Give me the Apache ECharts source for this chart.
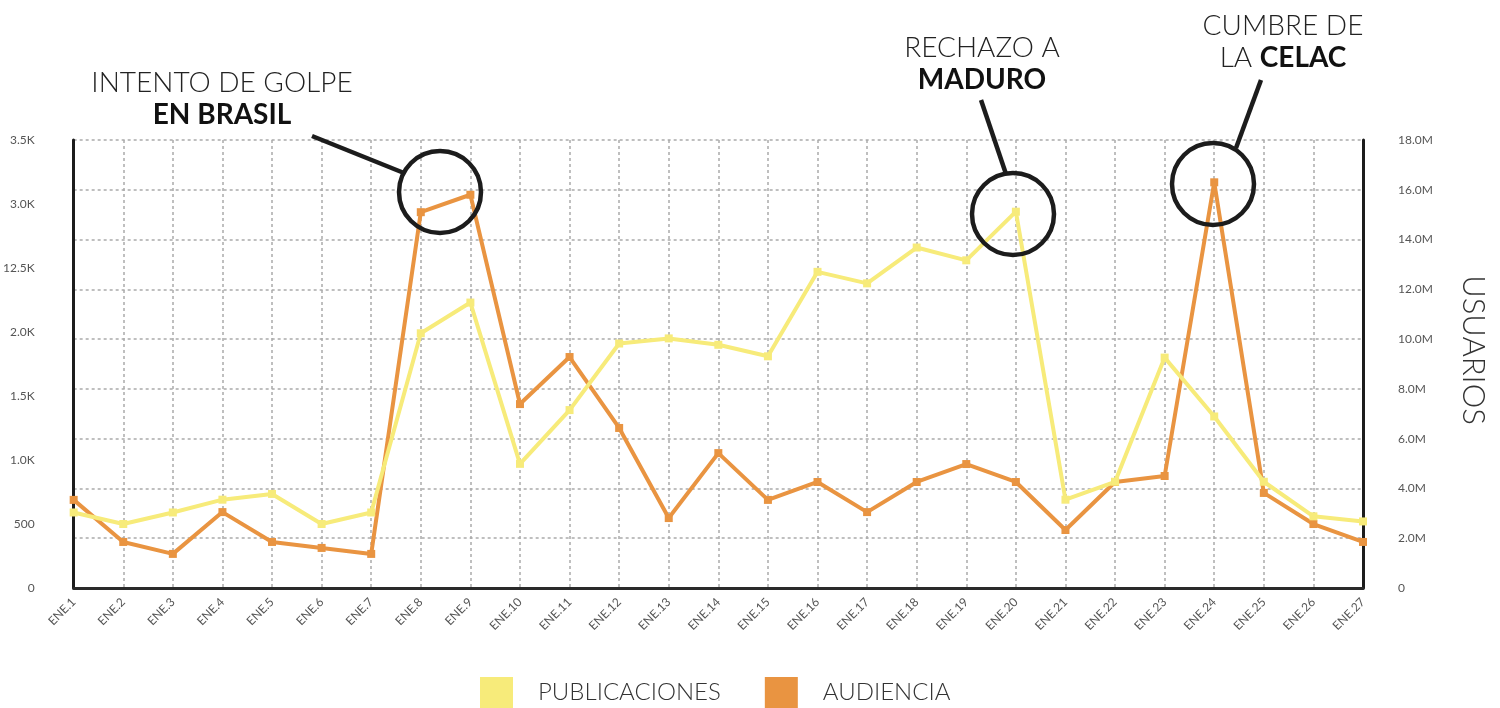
<!DOCTYPE html>
<html>
<head>
<meta charset="utf-8">
<script src="https://cdn.jsdelivr.net/npm/echarts@6/dist/echarts.min.js"></script>
<style>
  html, body { margin: 0; padding: 0; background: #fff; }
  #chart { width: 1500px; height: 708px; }
</style>
</head>
<body>
<div id="chart"></div>
<script>
var dias = [];
for (var d = 1; d <= 27; d++) { dias.push('ENE.' + d); }

// publicaciones (eje izquierdo)
var publicaciones = [590, 500, 590, 690, 735, 500, 590, 1990, 2230, 970, 1390, 1910, 1950, 1900,
    1810, 2470, 2380, 2660, 2560, 2940, 690, 830, 1800, 1340, 830, 560, 520];
// audiencia en millones (eje derecho)
var audiencia = [3.54, 1.85, 1.37, 3.05, 1.85, 1.61, 1.37, 15.1, 15.8, 7.39, 9.28, 6.43, 2.81, 5.42,
    3.54, 4.26, 3.05, 4.26, 4.98, 4.26, 2.33, 4.26, 4.5, 16.3, 3.82, 2.57, 1.85];

var etiquetasIzq = ['0', '500', '1.0K', '1.5K', '2.0K', '12.5K', '3.0K', '3.5K'];

var FUENTE = 'Lato';
var AMARILLO = '#f7eb7a';
var NARANJA = '#e99441';
var NEGRO = '#1c1c1c';

var myChart = echarts.init(document.getElementById('chart'));

function circulo(cx, cy) {
    return {
        type: 'circle', z: 100,
        shape: { cx: cx, cy: cy, r: 41 },
        style: { fill: 'none', stroke: NEGRO, lineWidth: 4.5 }
    };
}
function linea(x1, y1, x2, y2) {
    return {
        type: 'line', z: 100,
        shape: { x1: x1, y1: y1, x2: x2, y2: y2 },
        style: { stroke: NEGRO, lineWidth: 4.5 }
    };
}
function titulo(x, y, txt) {
    return {
        type: 'text', z: 100, x: x, y: y,
        style: {
            text: txt, fontFamily: FUENTE, fontSize: 28, fontWeight: 300, fill: '#222',
            align: 'center', verticalAlign: 'middle', lineHeight: 32,
            rich: { b: { fontFamily: FUENTE, fontSize: 28, fontWeight: 'bold', fill: '#111' } }
        }
    };
}

var option = {
    backgroundColor: '#fff',
    animation: false,
    grid: { left: 71, right: 137, top: 140, bottom: 120 },
    legend: {
        left: 480, top: 677, padding: 0,
        itemWidth: 33, itemHeight: 31, itemGap: 44,
        icon: 'rect',
        data: ['PUBLICACIONES', 'AUDIENCIA'],
        textStyle: { fontFamily: FUENTE, fontWeight: 300, fontSize: 24, color: '#333', padding: [0, 0, 0, 20] }
    },
    xAxis: {
        type: 'category',
        data: dias,
        boundaryGap: false,
        axisLine: { lineStyle: { color: '#2a2a2a', width: 3 } },
        axisTick: { show: false },
        axisLabel: { rotate: 45, fontFamily: FUENTE, fontSize: 12, color: '#555', margin: 12 },
        splitLine: { show: true, lineStyle: { color: '#aaa', type: [3, 3], width: 1.5 } }
    },
    yAxis: [
        {
            type: 'value', min: 0, max: 3500, interval: 500,
            axisLine: { show: true, lineStyle: { color: NEGRO, width: 3 } },
            axisTick: { show: false },
            splitLine: { show: false },
            axisLabel: {
                margin: 39, fontFamily: FUENTE, fontSize: 12, color: '#555',
                formatter: function (v) { return etiquetasIzq[Math.round(v / 500)]; }
            }
        },
        {
            type: 'value', min: 0, max: 18, interval: 2,
            position: 'right',
            axisLine: { show: true, lineStyle: { color: NEGRO, width: 3 } },
            axisTick: { show: false },
            splitLine: { show: true, lineStyle: { color: '#aaa', type: [3, 3], width: 1.5 } },
            axisLabel: {
                margin: 35, fontFamily: FUENTE, fontSize: 12, color: '#555',
                formatter: function (v) { return v === 0 ? '0' : v.toFixed(1) + 'M'; }
            }
        }
    ],
    series: [
        {
            name: 'AUDIENCIA', type: 'line', yAxisIndex: 1,
            data: audiencia,
            symbol: 'rect', symbolSize: 8,
            itemStyle: { color: NARANJA },
            lineStyle: { color: NARANJA, width: 4 }
        },
        {
            name: 'PUBLICACIONES', type: 'line', yAxisIndex: 0,
            data: publicaciones,
            symbol: 'rect', symbolSize: 8,
            itemStyle: { color: AMARILLO },
            lineStyle: { color: AMARILLO, width: 4 }
        }
    ],
    graphic: [
        circulo(440, 192), linea(312, 136, 404, 173),
        circulo(1013, 214), linea(981, 100, 1006, 174),
        circulo(1213, 184), linea(1261, 80, 1236, 148),
        titulo(222, 99, 'INTENTO DE GOLPE\n{b|EN BRASIL}'),
        titulo(982, 64, 'RECHAZO A\n{b|MADURO}'),
        titulo(1283, 42, 'CUMBRE DE\nLA {b|CELAC}'),
        {
            type: 'text', x: 1473, y: 350, rotation: -Math.PI / 2,
            style: {
                text: 'USUARIOS', fontFamily: FUENTE, fontWeight: 300, fontSize: 31, fill: '#333',
                align: 'center', verticalAlign: 'middle'
            }
        }
    ]
};
myChart.setOption(option);
</script>
</body>
</html>
